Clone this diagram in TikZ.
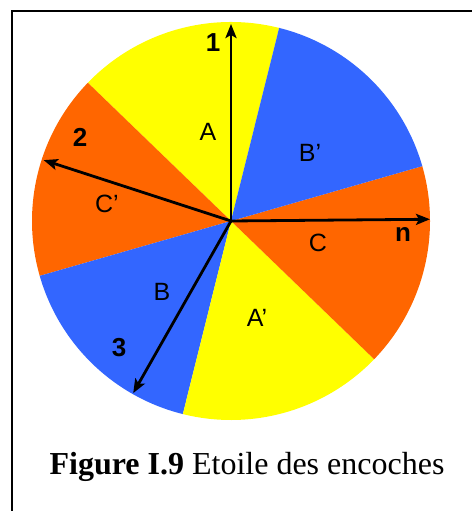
\documentclass[tikz,border=0pt]{standalone}
\usepackage{fontspec}
\setmainfont{Liberation Serif}
\setsansfont{Liberation Sans}
\usetikzlibrary{arrows.meta,calc}
\definecolor{phaseA}{RGB}{255,255,0}
\definecolor{phaseB}{RGB}{51,102,255}
\definecolor{phaseC}{RGB}{255,102,0}

\begin{document}
\begin{tikzpicture}[x=1pt,y=1pt,
  vec/.style={line width=2.8pt,-{Stealth[length=14pt,width=11pt,inset=3pt]}},
  slot/.style={font=\sffamily\fontsize{25}{25}\selectfont},
  num/.style={font=\sffamily\bfseries\fontsize{26}{26}\selectfont}]
\useasboundingbox (0,0) rectangle (472,511);
\draw[line width=2pt] (12,0) |- (472,500);

% the six phase belts, 60 degrees each
\coordinate (O) at (231,290);
\foreach \a/\col in {76/phaseA,136/phaseC,196/phaseB,256/phaseA,316/phaseC,16/phaseB}
  \fill[\col] (O) -- ++(\a:199) arc (\a:\a+60:199) -- cycle;

% slot vectors
\path (O) ++(90:197) coordinate (t1);
\path (O) ++(162:197) coordinate (t2);
\path (O) ++(240.4:198) coordinate (t3);
\path (O) ++(0.5:199) coordinate (tn);
\draw[vec] (O) -- (t1);
\draw[vec] (O) -- (t2);
\draw[vec] (O) -- (t3);
\draw[vec] (O) -- (tn);

\node[num] (l1) at (213,468) {1};
\node[num] (l2) at (80,374) {2};
\node[num] (l3) at (119,163) {3};
\node[num] (ln) at (403,276) {n};

\node[slot] (A) at (208,379) {A};
\node[slot] (Bp) at (310,358) {B’};
\node[slot] (Cp) at (107,307) {C’};
\node[slot] (C) at (318,268) {C};
\node[slot] (B) at (162,219) {B};
\node[slot] (Ap) at (257,193) {A’};

\node[anchor=base,font=\fontsize{32}{32}\selectfont] (cap) at (247,36)
  {\textbf{Figure I.9} Etoile des encoches};
\end{tikzpicture}
\end{document}
